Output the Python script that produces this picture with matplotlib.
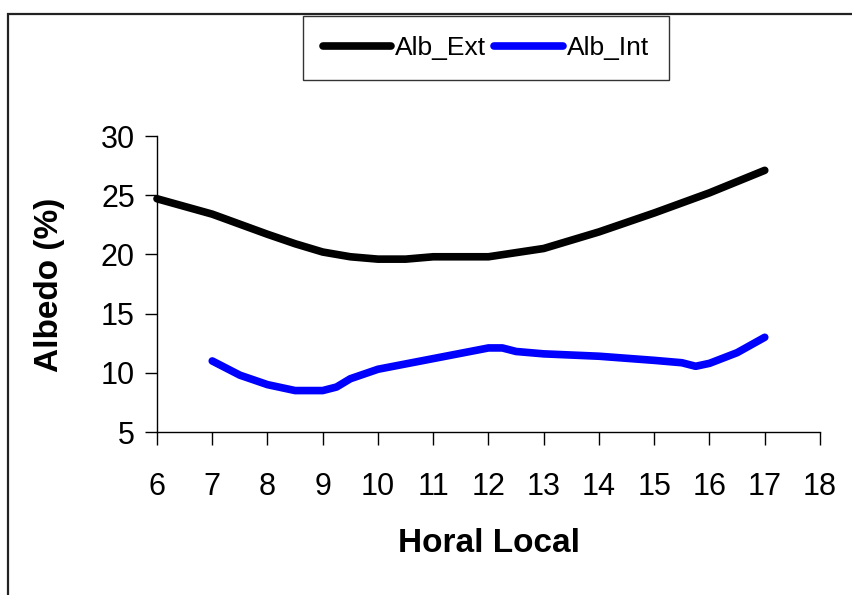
import matplotlib.pyplot as plt
from matplotlib.patches import Rectangle

plt.rcParams['font.family'] = ['Liberation Sans', 'DejaVu Sans']

# data
hora_ext = [6, 7, 8, 8.5, 9, 9.5, 10, 10.5, 11, 12, 13, 14, 15, 16, 17]
alb_ext = [24.7, 23.4, 21.7, 20.9, 20.2, 19.8, 19.6, 19.6, 19.8, 19.8, 20.5, 21.9, 23.5, 25.2, 27.1]

hora_int = [7, 7.5, 8, 8.5, 9, 9.25, 9.5, 10, 11, 12, 12.25, 12.5, 13, 14, 15, 15.5, 15.75, 16, 16.5, 17]
alb_int = [11.0, 9.8, 9.0, 8.5, 8.5, 8.8, 9.5, 10.3, 11.2, 12.1, 12.1, 11.8, 11.6, 11.4, 11.05, 10.85, 10.55, 10.8, 11.7, 13.0]

xticks = list(range(6, 19))
yticks = [5, 10, 15, 20, 25, 30]

fig = plt.figure(figsize=(8.53, 5.95), dpi=100)
ax = fig.add_axes([157/853, 1 - 432/595, (820 - 157)/853, (432 - 136)/595])

ax.plot(hora_ext, alb_ext, color='black', lw=5.5, solid_capstyle='round', label='Alb_Ext')
ax.plot(hora_int, alb_int, color='#0000ff', lw=5.5, solid_capstyle='round', label='Alb_Int')

ax.set_xlim(6, 18)
ax.set_ylim(5, 30)
ax.set_xticks(xticks)
ax.set_yticks(yticks)
ax.tick_params(axis='both', direction='out', length=9, width=1, labelsize=22, pad=7)
ax.tick_params(axis='x', pad=20)
for s in ['top', 'right']:
    ax.spines[s].set_visible(False)
for s in ['left', 'bottom']:
    ax.spines[s].set_linewidth(1)
for ln in ax.lines:
    ln.set_clip_on(False)

fig.text(50/853, 1 - 285/595, 'Albedo (%)', rotation=90, ha='center', va='center',
         fontsize=24, fontweight='bold')
fig.text(489/853, 1 - 543/595, 'Horal Local', ha='center', va='center',
         fontsize=24, fontweight='bold')

leg = fig.legend(loc='center', bbox_to_anchor=(486/853, 1 - 48/595), ncol=2,
                 fontsize=19, frameon=True, fancybox=False, handlelength=2.6,
                 handletextpad=0.15, columnspacing=0.3, borderpad=0.75, borderaxespad=0)
leg.get_frame().set_edgecolor('black')
leg.get_frame().set_linewidth(1)

# outer chart border
fig.patches.append(Rectangle((8/853, -0.1), 1.2, 1 - 14/595 + 0.1, transform=fig.transFigure,
                             fill=False, edgecolor='#222222', lw=1.6))

fig.savefig('out.png', dpi=100)
